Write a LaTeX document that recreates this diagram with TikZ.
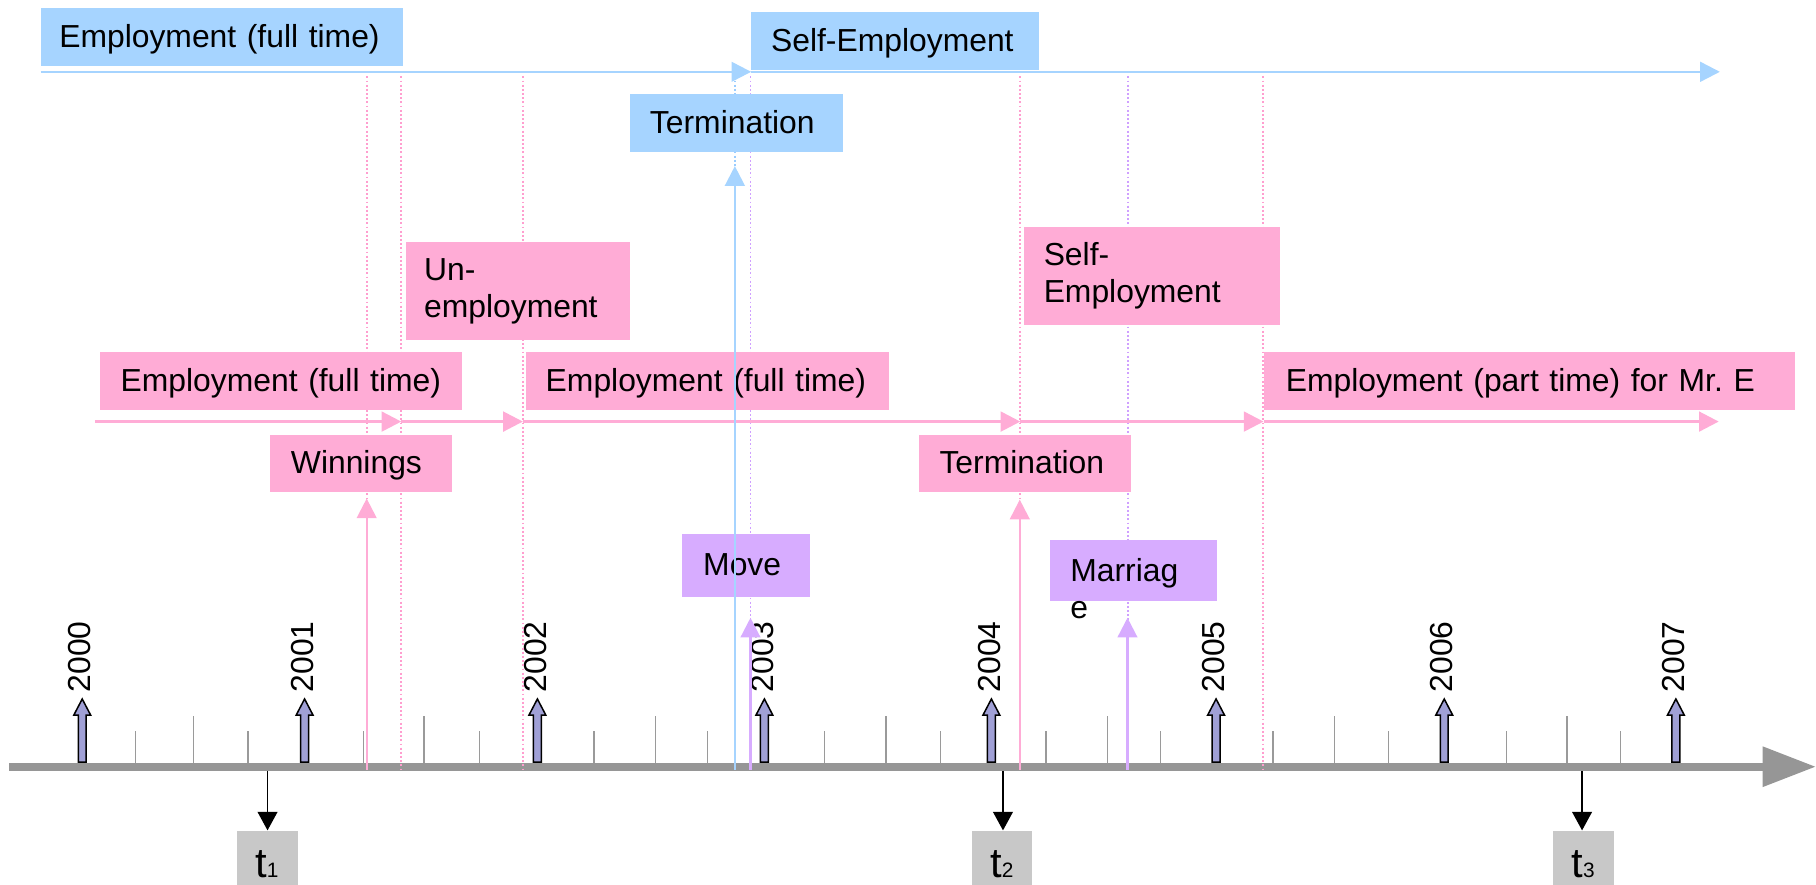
\documentclass[tikz,border=0pt]{standalone}
\usepackage{fontspec}
\setmainfont{Liberation Sans}
\usetikzlibrary{arrows.meta}
\definecolor{bluebox}{HTML}{A6D4FF}
\definecolor{pinkbox}{HTML}{FFACD6}
\definecolor{purplebox}{HTML}{D7ACFF}
\definecolor{bluel}{HTML}{A6D4FF}
\definecolor{pinkl}{HTML}{FFACD6}
\definecolor{purplel}{HTML}{D7ACFF}
\definecolor{pinkdot}{HTML}{FF9ECF}
\definecolor{purpledot}{HTML}{CFA0FF}
\definecolor{bluedot}{HTML}{99CCFF}
\definecolor{axisgray}{HTML}{969696}
\definecolor{tickgray}{HTML}{9A9A9A}
\definecolor{yearfill}{HTML}{A0A0D6}
\definecolor{tgray}{HTML}{C8C8C8}
\newcommand{\mfs}{\fontsize{27.5}{32}\selectfont}
\frenchspacing
\begin{document}
\begin{tikzpicture}[x=1pt,y=-1pt,
  box/.style={anchor=north west, inner ysep=0pt, align=left, font=\mfs, text height=20pt, text depth=2pt, minimum height=50pt},
  boxtwo/.style={anchor=north west, inner ysep=0pt, align=left, font=\mfs, minimum height=84pt},
  tri/.style={-{Triangle[length=17pt,width=17pt]}},
  dotl/.style={line width=1.6pt, dash pattern=on 1.6pt off 2pt},
  evline/.style={line width=2pt},
  year/.style={rotate=90, anchor=west, font=\mfs, inner sep=0pt},
  tick/.style={tickgray, line width=1.2pt},
  yarrow/.style={fill=yearfill, draw=black, line width=1.3pt, line join=miter},
  tbox/.style={fill=tgray, anchor=north west, minimum height=60pt, inner sep=0pt},
  tlab/.style={anchor=base, inner sep=0pt, font=\fontsize{36}{36}\selectfont},
  tarrow/.style={black, line width=1.5pt, -{Triangle[length=16pt,width=17pt]}}
]
\useasboundingbox (0,0) rectangle (1568,764);

% axis
\coordinate (axL) at (8,662);
\coordinate (axR) at (1568,662);
\draw[axisgray, line width=7.2pt, -{Triangle[length=46pt,width=33pt]}] (axL) -- (axR);

% ticks
\foreach \x in {117,214,314,414,513,611,712,812,903,1002,1099,1199,1301,1399}
  \draw[tick] (\x,659) -- (\x,631);
\foreach \x in {167,366,566,765,956,1152,1353}
  \draw[tick] (\x,659) -- (\x,618);

% year arrows and labels
\foreach \x/\y in {71/2000,263/2001,464/2002,660/2003,856/2004,1050/2005,1247/2006,1447/2007}{
  \draw[yarrow] (\x-3.4,658) -- (\x-3.4,617.5) -- (\x-7.3,617.5) -- (\x,603.5)
     -- (\x+7.3,617.5) -- (\x+3.4,617.5) -- (\x+3.4,658) -- cycle;
  \node[year] (y\y) at (\x-2,598) {\y};
}

% dotted guide lines
\foreach \x/\c [count=\i] in {316.6/pinkdot,346.5/pinkdot,451.5/pinkdot,880.5/pinkdot,1090.5/pinkdot,634.5/bluedot,648/purpledot,974/purpledot}{
  \coordinate (d\i t) at (\x,66);
  \coordinate (d\i b) at (\x,666);
  \draw[dotl, \c] (d\i t) -- (d\i b);
}

% boxes
\node[box, fill=bluebox, inner xsep=16pt, text width=281pt] (bEmp) at (35,7) {Employment (full time)};
\node[box, fill=bluebox, inner xsep=17pt, text width=214pt] (bSelf) at (648.6,10) {Self-Employment};
\node[box, fill=bluebox, inner xsep=17pt, text width=150pt] (bTerm) at (544,81) {Termination};
\node[boxtwo, fill=pinkbox, inner xsep=16pt, text width=162pt] (pUn) at (350,209) {Un-\\employment};
\node[box, fill=pinkbox, inner xsep=18pt, text width=277pt] (pEmp1) at (86,304) {Employment (full time)};
\node[box, fill=pinkbox, inner xsep=17pt, text width=279pt] (pEmp2) at (454,304) {Employment (full time)};
\node[box, fill=pinkbox, inner xsep=18pt, text width=121pt] (pWin) at (233,375) {Winnings};
\node[boxtwo, fill=pinkbox, inner xsep=17pt, text width=187pt] (pSelf) at (884,196) {Self-\\Employment};
\node[box, fill=pinkbox, inner xsep=19pt, text width=421pt] (pPart) at (1091,304) {Employment (part time) for Mr.\ E};
\node[box, fill=pinkbox, inner xsep=18pt, text width=147pt] (pTerm) at (793,375) {Termination};
\node[box, fill=purplebox, inner xsep=18pt, text width=74pt, minimum height=54pt] (uMove) at (589,461) {Move};
\node[box, fill=purplebox, inner sep=0pt, minimum width=145pt, minimum height=53pt] (uMarr) at (906,466) {};
\node[anchor=base west, font=\mfs, inner sep=0pt] (uMarrA) at (924,502) {Marriag};
\node[anchor=base west, font=\mfs, inner sep=0pt] (uMarrB) at (924,534) {e};

% blue timeline
\coordinate (bl0) at (35,62);
\coordinate (bl2) at (1485,62);
\draw[bluel, line width=2pt, tri] (bl0) -- (bl0 -| bSelf.west);
\draw[bluel, line width=2pt, tri] (bl0 -| bSelf.west) -- (bl2);

% pink timeline
\coordinate (pk0) at (82,364);
\coordinate (pk1) at (346.5,364);
\coordinate (pk2) at (451.5,364);
\coordinate (pk3) at (881,364);
\coordinate (pk4) at (1091,364);
\coordinate (pk5) at (1484,364);
\draw[pinkl, line width=2.4pt, tri] (pk0) -- (pk1);
\draw[pinkl, line width=2.4pt, tri] (pk1) -- (pk2);
\draw[pinkl, line width=2.4pt, tri] (pk2) -- (pk3);
\draw[pinkl, line width=2.4pt, tri] (pk3) -- (pk4);
\draw[pinkl, line width=2.4pt, tri] (pk4) -- (pk5);

% event arrows
\coordinate (winS) at (316.6,665);
\coordinate (blS) at (634.5,665);
\coordinate (mvS) at (648,665);
\coordinate (ptS) at (880.5,665);
\coordinate (mrS) at (973.5,665);
\draw[pinkl, evline, tri, shorten >=5pt] (winS) -- (winS |- pWin.south);
\draw[bluel, evline, tri, shorten >=12pt] (blS) -- (blS |- bTerm.south);
\draw[purplel, evline, tri, shorten >=18pt] (mvS) -- (mvS |- uMove.south);
\draw[pinkl, evline, tri, shorten >=6pt] (ptS) -- (ptS |- pTerm.south);
\draw[purplel, evline, tri, shorten >=14pt] (mrS) -- (mrS |- uMarr.south);

% t markers
\node[tbox, minimum width=53pt] (tb1) at (204,717) {};
\node[tbox, minimum width=52pt] (tb2) at (839,717) {};
\node[tbox, minimum width=52pt] (tb3) at (1341,717) {};
\node[tlab] (tl1) at (230.5,758) {t{\fontsize{18}{18}\selectfont 1}};
\node[tlab] (tl2) at (865,758) {t{\fontsize{18}{18}\selectfont 2}};
\node[tlab] (tl3) at (1367,758) {t{\fontsize{18}{18}\selectfont 3}};
\coordinate (t1s) at (231,666);
\coordinate (t2s) at (866,666);
\coordinate (t3s) at (1366,666);
\draw[tarrow] (t1s) -- (t1s |- tb1.north);
\draw[tarrow] (t2s) -- (t2s |- tb2.north);
\draw[tarrow] (t3s) -- (t3s |- tb3.north);
\end{tikzpicture}
\end{document}
